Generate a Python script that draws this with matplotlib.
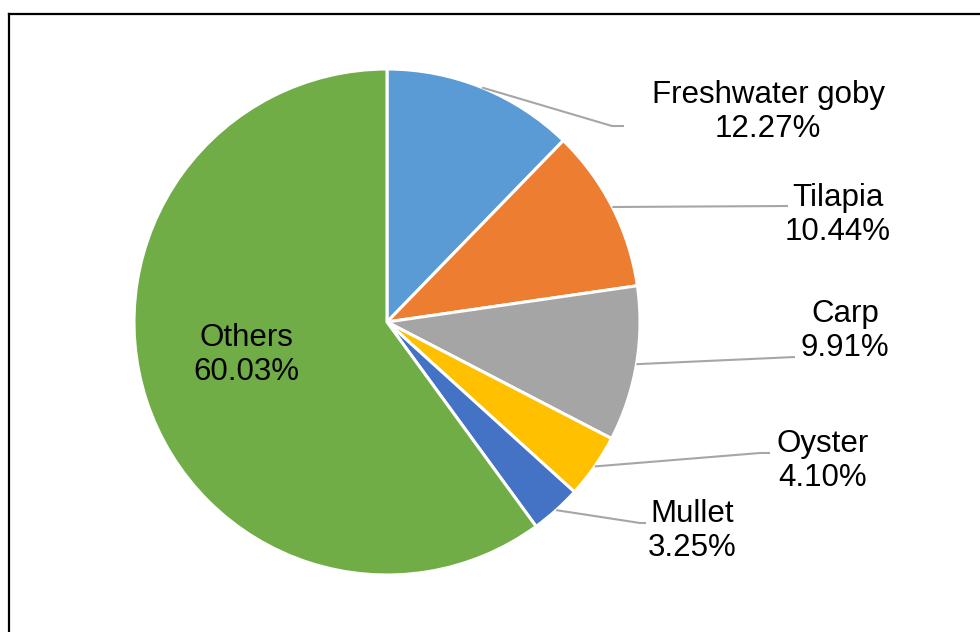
import numpy as np
import matplotlib
matplotlib.use("Agg")
from matplotlib import pyplot as plt
from matplotlib.lines import Line2D

labels = ["Freshwater goby", "Tilapia", "Carp", "Oyster", "Mullet", "Others"]
shares = [12.27, 10.44, 9.91, 4.10, 3.25, 60.03]
colors = ["#5B9BD5", "#ED7D31", "#A5A5A5", "#FFC000", "#4472C4", "#70AD47"]

W, H = 980, 632
cx, cy, r = 387, H - 322, 253

# label placement (pixel coords, y from top) and leader line bends
label_pos = {
    "Freshwater goby": (768, 112),
    "Tilapia": (838, 215),
    "Carp": (845, 331),
    "Oyster": (823, 461),
    "Mullet": (692, 531),
    "Others": (246, 355),
}
leader_pts = {
    "Freshwater goby": [(612, 126), (624, 126)],
    "Tilapia": [(788, 206)],
    "Carp": [(795, 357)],
    "Oyster": [(760, 453), (770, 453)],
    "Mullet": [(640, 523), (646, 523)],
}

plt.rcParams['font.family'] = ['Liberation Sans', 'DejaVu Sans']
fig = plt.figure(figsize=(W / 100, H / 100), dpi=100)
ax = fig.add_axes([0, 0, 1, 1])

wedges, _ = ax.pie(shares, colors=colors, startangle=90, counterclock=False,
                   center=(cx, cy), radius=r,
                   wedgeprops=dict(edgecolor="white", linewidth=2.2))
ax.set_xlim(0, W)
ax.set_ylim(0, H)
ax.set_aspect("equal")
ax.axis("off")

total = sum(shares)
cum = 0
for lab, val in zip(labels, shares):
    mid = 90 - (cum + val / 2) / total * 360
    cum += val
    tx, ty = label_pos[lab]
    ax.text(tx, H - ty, f"{lab}\n{val:.2f}%", ha="center", va="center",
            fontsize=22.5, linespacing=1.15, color="black")
    if lab in leader_pts:
        sx = cx + r * np.cos(np.radians(mid))
        sy = cy + r * np.sin(np.radians(mid))
        xs = [sx] + [p[0] for p in leader_pts[lab]]
        ys = [sy] + [H - p[1] for p in leader_pts[lab]]
        ax.plot(xs, ys, color="#A6A6A6", lw=1.5, solid_capstyle="butt")

# chart frame (only left and top edges are visible)
fig.add_artist(Line2D([9 / W, 9 / W], [0, 1 - 14 / H], color="black", lw=1.6,
                      transform=fig.transFigure))
fig.add_artist(Line2D([9 / W, 1], [1 - 14 / H, 1 - 14 / H], color="black", lw=1.6,
                      transform=fig.transFigure))

plt.savefig("out.png", dpi=100)
